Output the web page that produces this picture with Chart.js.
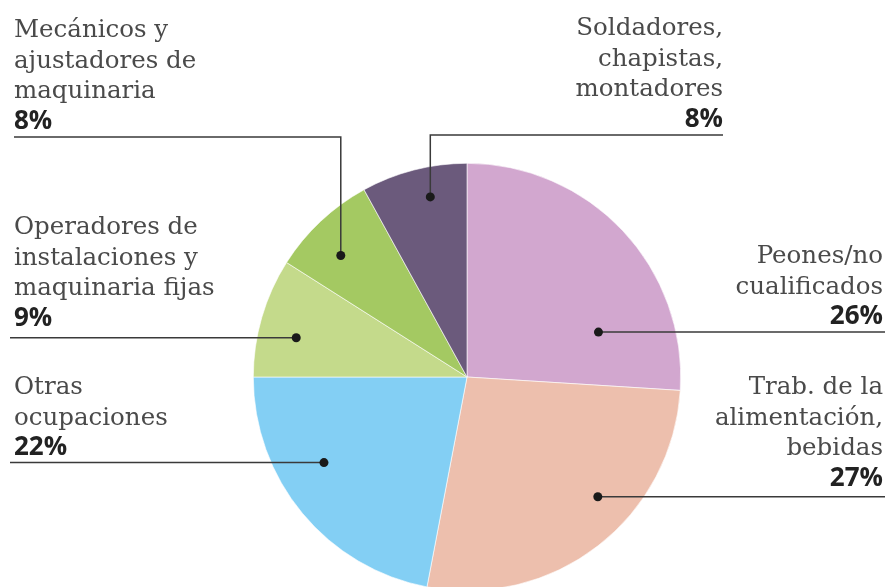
<!DOCTYPE html>
<html>
<head>
<meta charset="utf-8">
<script src="https://cdn.jsdelivr.net/npm/chart.js@4/dist/chart.umd.min.js"></script>
<style>
  html, body { margin: 0; padding: 0; background: #fff; overflow: hidden; }
  #wrap { width: 885px; height: 600px; }
</style>
</head>
<body>
<div id="wrap"><canvas id="pieChart" width="885" height="600"></canvas></div>
<script>
// Data
const categories = [
    ['Peones/no', 'cualificados'],
    ['Trab. de la', 'alimentación,', 'bebidas'],
    ['Otras', 'ocupaciones'],
    ['Operadores de', 'instalaciones y', 'maquinaria fijas'],
    ['Mecánicos y', 'ajustadores de', 'maquinaria'],
    ['Soldadores,', 'chapistas,', 'montadores']
];
const shares = [26, 27, 22, 9, 8, 8];
const percentLabels = ['26%', '27%', '22%', '9%', '8%', '8%'];

const sliceColors = ['#d2a7cf', '#edbfad', '#83cff4', '#c4da8b', '#a4c962', '#6b5a7c'];

// label placement: text anchor, first baseline, where the leader goes
// dot = [fraction along slice, fraction of radius]
const labelLayout = [
    { align: 'right', x: 883, y: 263, dot: [0.76, 0.65], leader: 'right', end: 885 },
    { align: 'right', x: 883, y: 394, dot: [0.40, 0.83], leader: 'right', end: 885 },
    { align: 'left',  x: 14,  y: 394, dot: [0.61, 0.78], leader: 'left',  end: 10 },
    { align: 'left',  x: 14,  y: 234, dot: [0.40, 0.82], leader: 'left',  end: 10 },
    { align: 'left',  x: 14,  y: 37,  dot: [0.40, 0.82], leader: 'up',    end: 14,  lineY: 137 },
    { align: 'right', x: 723, y: 35,  dot: [0.60, 0.86], leader: 'up',    end: 723, lineY: 135 }
];

const LINE_H = 30.5;

const calloutPlugin = {
    id: 'callouts',
    afterDraw(chart) {
        const ctx = chart.ctx;
        const arcs = chart.getDatasetMeta(0).data;
        ctx.save();
        arcs.forEach((arc, i) => {
            const lay = labelLayout[i];
            const p = arc.getProps(['x', 'y', 'startAngle', 'endAngle', 'outerRadius'], true);
            const ang = p.startAngle + (p.endAngle - p.startAngle) * lay.dot[0];
            const r = p.outerRadius * lay.dot[1];
            const dx = p.x + Math.cos(ang) * r;
            const dy = p.y + Math.sin(ang) * r;

            // leader line
            ctx.strokeStyle = '#3a3a3a';
            ctx.lineWidth = 1.5;
            ctx.beginPath();
            ctx.moveTo(dx, dy);
            if (lay.leader === 'up') {
                ctx.lineTo(dx, lay.lineY);
                ctx.lineTo(lay.end, lay.lineY);
            } else {
                ctx.lineTo(lay.end, dy);
            }
            ctx.stroke();

            ctx.fillStyle = '#1a1a1a';
            ctx.beginPath();
            ctx.arc(dx, dy, 4.5, 0, Math.PI * 2);
            ctx.fill();

            // text
            ctx.textAlign = lay.align;
            ctx.textBaseline = 'alphabetic';
            ctx.fillStyle = '#4a4a4a';
            ctx.font = '24.5px "DejaVu Serif"';
            const lines = categories[i];
            lines.forEach((t, k) => ctx.fillText(t, lay.x, lay.y + k * LINE_H));
            ctx.fillStyle = '#222';
            ctx.font = 'bold 26px "Open Sans"';
            ctx.fillText(percentLabels[i], lay.x, lay.y + lines.length * LINE_H);
        });
        ctx.restore();
    }
};

const ctx = document.getElementById('pieChart').getContext('2d');
const chart = new Chart(ctx, {
    type: 'pie',
    data: {
        labels: categories,
        datasets: [{
            data: shares,
            backgroundColor: sliceColors,
            borderColor: '#ffffff',
            borderWidth: 0.6
        }]
    },
    options: {
        responsive: false,
        animation: false,
        layout: { padding: { left: 253, right: 204, top: 163, bottom: 9 } },
        plugins: {
            legend: { display: false },
            tooltip: { enabled: false }
        }
    },
    plugins: [calloutPlugin]
});
</script>
</body>
</html>
